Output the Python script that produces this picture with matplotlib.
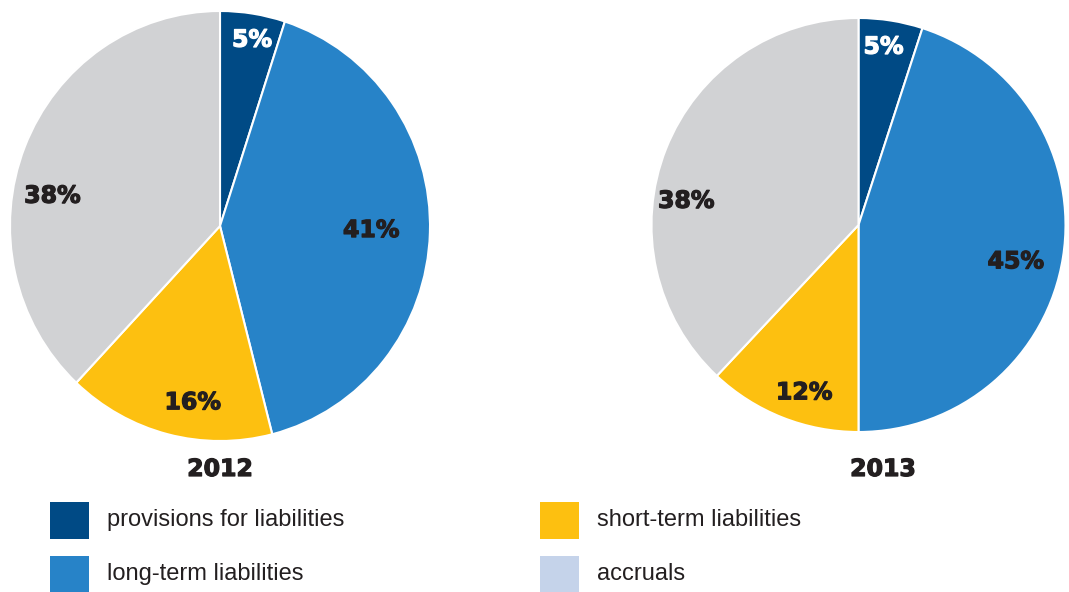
import numpy as np
import matplotlib
matplotlib.use("Agg")
import matplotlib.pyplot as plt
import matplotlib.patheffects as pe
from matplotlib.patches import Rectangle

# data
categories = ["provisions for liabilities", "long-term liabilities",
              "short-term liabilities", "accruals"]
years = ["2012", "2013"]
shares_2012 = [5, 41, 16, 38]
shares_2013 = [5, 45, 12, 38]

# styling
pie_colors = ["#004a85", "#2783c8", "#fdc010", "#d1d2d4"]
legend_colors = ["#004a85", "#2783c8", "#fdc010", "#c5d3ea"]
label_colors = ["white", "#231f20", "#231f20", "#231f20"]
text_color = "#231f20"
bold_font = ['DejaVu Sans']

# label placement (angle in degrees, radius as fraction) per pie
labels_2012 = [(80, 0.88), (-1.5, 0.72), (-99, 0.83), (170, 0.81)]
labels_2013 = [(82, 0.87), (-13, 0.78), (-108, 0.85), (172, 0.84)]

W, H = 1069, 592
fig = plt.figure(figsize=(W / 100, H / 100), dpi=100)
plt.rcParams['font.family'] = ['Liberation Sans', 'DejaVu Sans']


def pie_axes(cx, cy, rx, ry):
    # pixel centre / radii -> figure axes
    return fig.add_axes([(cx - rx) / W, 1 - (cy + ry) / H, 2 * rx / W, 2 * ry / H])


def draw_pie(ax, values, spots):
    wedges, _ = ax.pie(values, colors=pie_colors, startangle=90, counterclock=False,
                       radius=1, wedgeprops=dict(edgecolor="white", linewidth=1.5))
    ax.set_aspect("auto")
    ax.set_xlim(-1, 1)
    ax.set_ylim(-1, 1)
    ax.axis("off")
    for v, col, (ang, rr) in zip(values, label_colors, spots):
        a = np.deg2rad(ang)
        ax.text(rr * np.cos(a), rr * np.sin(a), f"{v}%", ha="center", va="center",
                color=col, fontsize=17, fontweight="bold", family=bold_font,
                path_effects=[pe.withStroke(linewidth=0.9, foreground=col)])


ax1 = pie_axes(220, 226, 210, 215)
draw_pie(ax1, shares_2012, labels_2012)
ax2 = pie_axes(858.5, 225, 207, 207)
draw_pie(ax2, shares_2013, labels_2013)

for x, yr in zip([220, 883], years):
    fig.text(x / W, 1 - 469 / H, yr, ha="center", va="center",
             fontsize=17, fontweight="bold", color=text_color, family=bold_font,
             path_effects=[pe.withStroke(linewidth=0.9, foreground=text_color)])

# legend
lax = fig.add_axes([0, 0, 1, 1])
lax.set_xlim(0, W)
lax.set_ylim(H, 0)
lax.axis("off")
spots = [(50, 502), (50, 556), (540, 502), (540, 556)]
for (x, y), name, col in zip(spots, categories, legend_colors):
    lax.add_patch(Rectangle((x, y), 39, 37, color=col, lw=0))
    lax.text(x + 57, y + 18, name, ha="left", va="center", fontsize=17, color=text_color)

fig.savefig("out.png", dpi=100)
